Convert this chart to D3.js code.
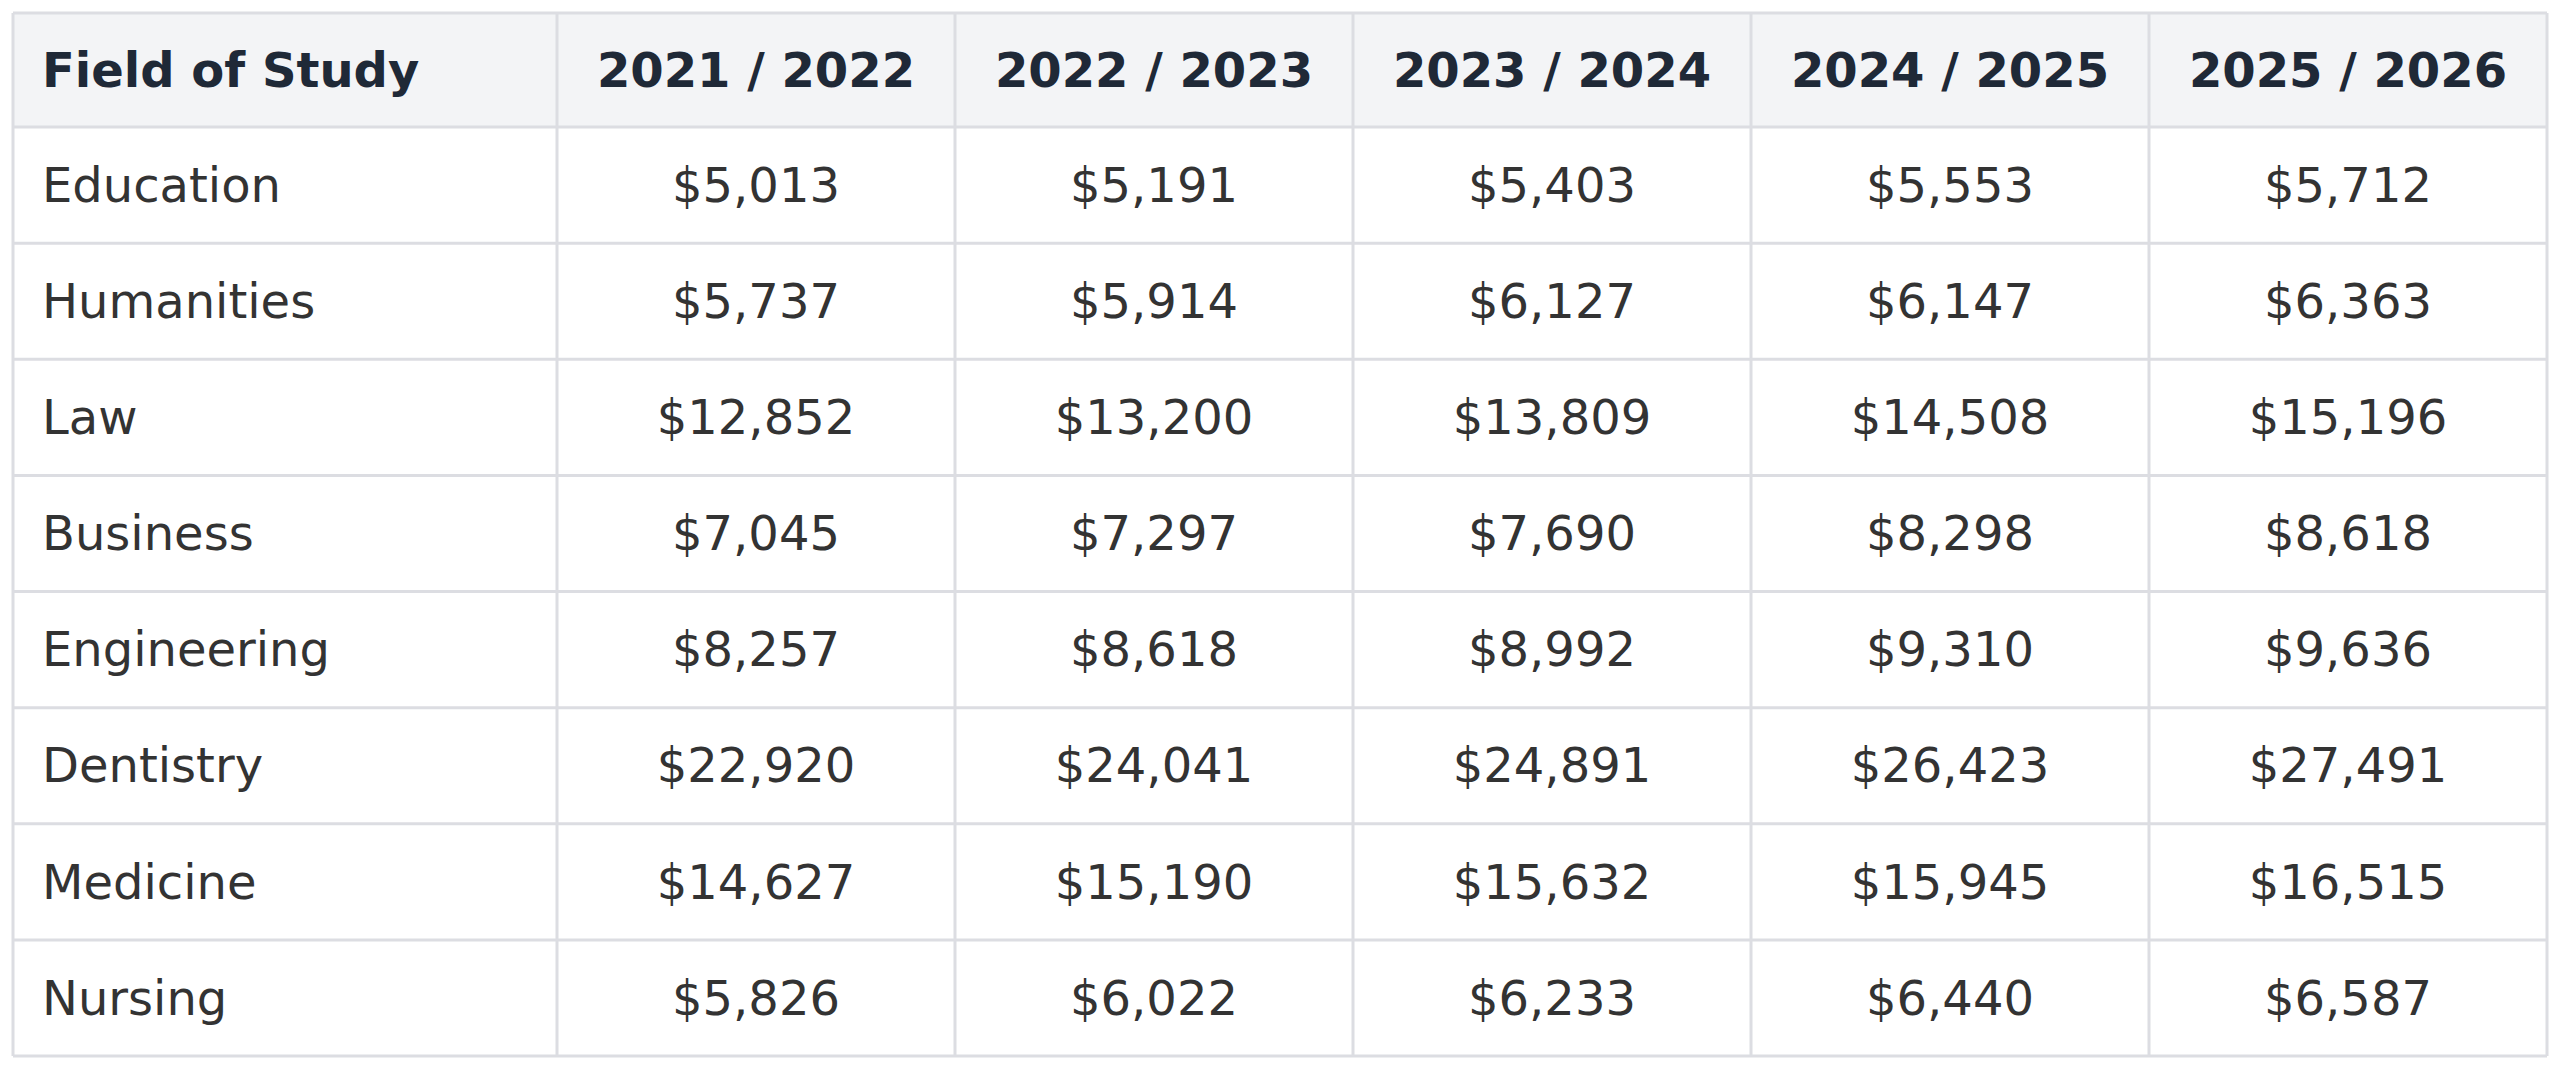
<!DOCTYPE html>
<html><head><meta charset="utf-8">
<script src="https://cdn.jsdelivr.net/npm/d3@7"></script>
<style>body{margin:0;background:#fff}</style>
</head><body><svg id="c" width="2560" height="1070"></svg>
<script>
const headers = ["Field of Study","2021 / 2022","2022 / 2023","2023 / 2024","2024 / 2025","2025 / 2026"];
const fields = ["Education","Humanities","Law","Business","Engineering","Dentistry","Medicine","Nursing"];
const y2021 = [5013,5737,12852,7045,8257,22920,14627,5826];
const y2022 = [5191,5914,13200,7297,8618,24041,15190,6022];
const y2023 = [5403,6127,13809,7690,8992,24891,15632,6233];
const y2024 = [5553,6147,14508,8298,9310,26423,15945,6440];
const y2025 = [5712,6363,15196,8618,9636,27491,16515,6587];
const series = [y2021,y2022,y2023,y2024,y2025];

(function(){
const svg = d3.select("#c");
const L = 13, R = 2547, T = 13, headH = 114, B = 1056;
const firstW = 544;
const x = d3.scaleBand().domain(d3.range(5)).range([L+firstW, R]);
const y = d3.scaleBand().domain(d3.range(fields.length)).range([T+headH, B]);
const fmt = d3.format("$,");
const font = "'DejaVu Sans', sans-serif";

svg.append("rect").attr("x",L).attr("y",T).attr("width",R-L).attr("height",headH).attr("fill","#f3f4f6");
svg.append("text").attr("x",L+29).attr("y",T+headH/2).attr("dy","0.35em")
  .attr("font-family",font).attr("font-size",48).attr("font-weight","bold").attr("fill","#1f2937").text(headers[0]);
svg.selectAll(".h").data(d3.range(5)).join("text")
  .attr("x",i=>x(i)+x.bandwidth()/2).attr("y",T+headH/2).attr("dy","0.35em").attr("text-anchor","middle")
  .attr("font-family",font).attr("font-size",48).attr("font-weight","bold").attr("fill","#1f2937").text(i=>headers[i+1]);
fields.forEach((f,r)=>{
  svg.append("text").attr("x",L+29).attr("y",y(r)+y.bandwidth()/2).attr("dy","0.35em")
    .attr("font-family",font).attr("font-size",48).attr("fill","#333").text(f);
  series.forEach((s,c)=>{
    svg.append("text").attr("x",x(c)+x.bandwidth()/2).attr("y",y(r)+y.bandwidth()/2).attr("dy","0.35em")
      .attr("text-anchor","middle").attr("font-family",font).attr("font-size",48).attr("fill","#333").text(fmt(s[r]));
  });
});
const g = svg.append("g").attr("stroke","#dcdde2").attr("stroke-width",3);
[T, T+headH, ...d3.range(1,fields.length).map(i=>y(i)), B].forEach(v=>
  g.append("line").attr("x1",L).attr("x2",R).attr("y1",v).attr("y2",v));
[L, ...d3.range(5).map(i=>x(i)), R].forEach(v=>
  g.append("line").attr("x1",v).attr("x2",v).attr("y1",T).attr("y2",B));
})();
</script></body></html>
